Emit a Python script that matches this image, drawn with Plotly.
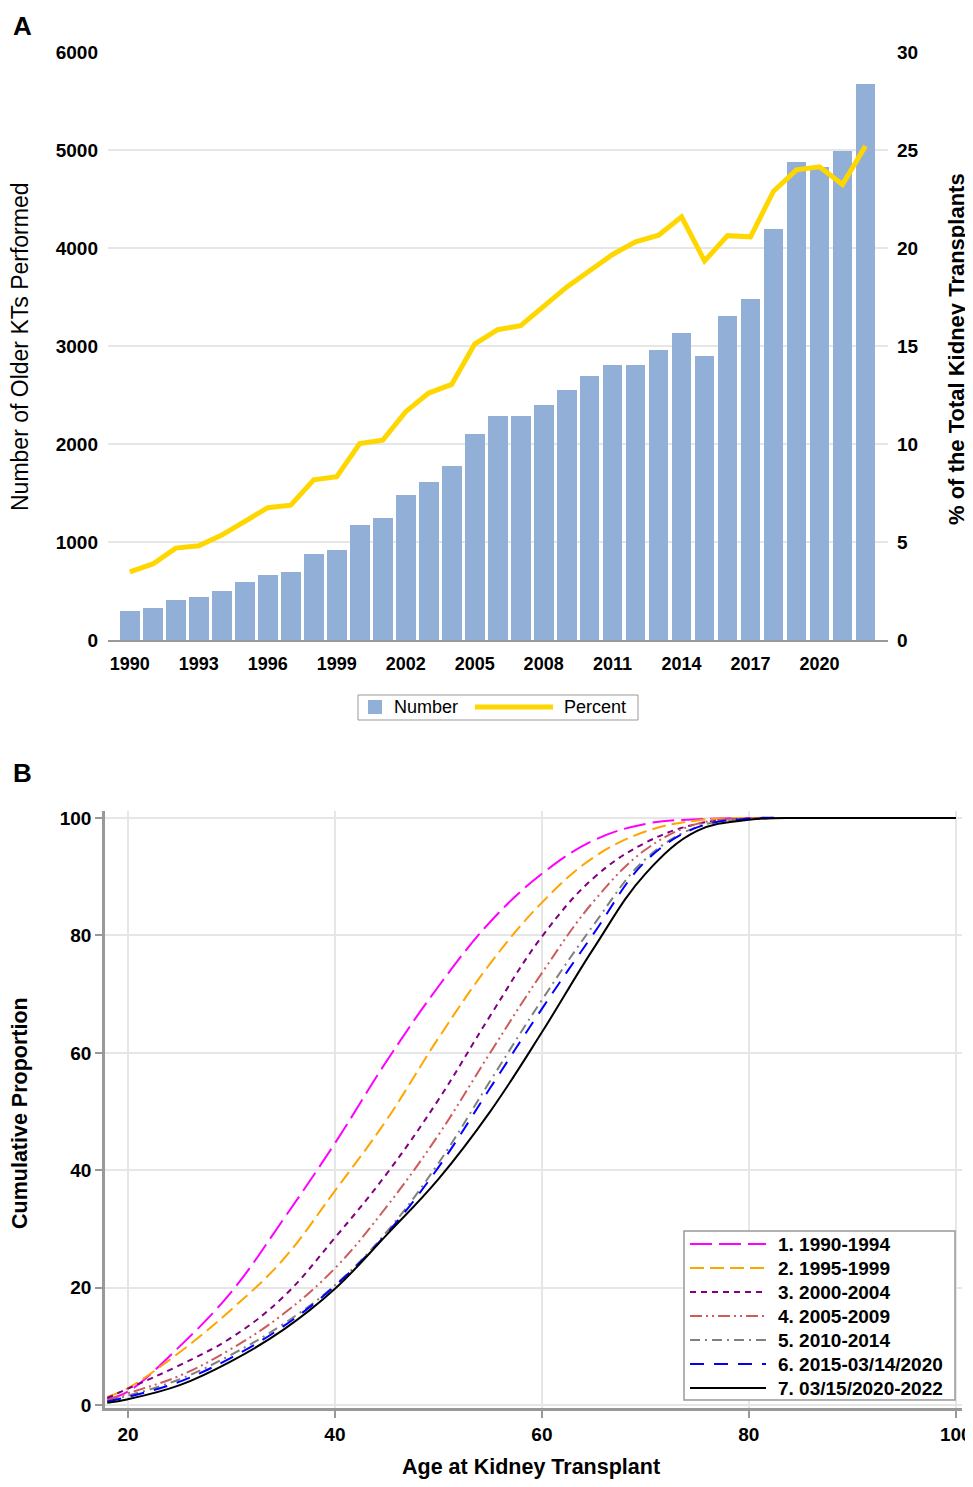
import plotly.graph_objects as go

# ---------------- Panel A data ----------------
years = list(range(1990, 2023))
number_kt = [292, 330, 405, 440, 497, 588, 665, 698, 882, 914, 1178, 1246, 1476, 1615, 1776, 2099,
             2290, 2285, 2402, 2550, 2693, 2810, 2808, 2960, 3137, 2895, 3311, 3483, 4196, 4875,
             4826, 4992, 5672]
percent_kt = [3.48, 3.88, 4.69, 4.81, 5.35, 6.08, 6.75, 6.88, 8.17, 8.33, 10.02, 10.19, 11.65, 12.6,
              13.04, 15.1, 15.83, 16.04, 17.0, 18.0, 18.84, 19.67, 20.32, 20.65, 21.59, 19.34,
              20.63, 20.57, 22.9, 23.99, 24.14, 23.24, 25.2]
year_ticks = list(range(1990, 2021, 3))

# ---------------- Panel B data ----------------
ages = [18, 20, 25, 30, 35, 40, 45, 50, 55, 60, 65, 70, 75, 80, 85, 90, 95, 100]
series_names = ["1. 1990-1994", "2. 1995-1999", "3. 2000-2004", "4. 2005-2009",
                "5. 2010-2014", "6. 2015-03/14/2020", "7. 03/15/2020-2022"]
cum_1990_1994 = [1.0, 2.3, 10.0, 19.3, 31.6, 44.6, 58.6, 71.3, 82.3, 90.5, 96.2, 99.0, 99.8, 100, 100, 100, 100, 100]
cum_1995_1999 = [1.4, 2.9, 9.0, 16.3, 24.8, 36.5, 48.6, 62.5, 75.2, 85.6, 93.3, 97.7, 99.6, 100, 100, 100, 100, 100]
cum_2000_2004 = [1.2, 2.8, 6.8, 11.5, 18.4, 28.5, 39.4, 52.0, 66.3, 79.8, 89.8, 95.8, 99.0, 99.9, 100, 100, 100, 100]
cum_2005_2009 = [0.8, 2.0, 5.0, 9.6, 15.5, 23.3, 33.8, 46.0, 60.0, 73.6, 85.8, 94.6, 99.0, 99.9, 100, 100, 100, 100]
cum_2010_2014 = [0.7, 1.6, 4.4, 8.6, 13.8, 20.4, 29.5, 41.2, 55.2, 69.0, 81.8, 93.0, 98.5, 99.8, 100, 100, 100, 100]
cum_2015_2020 = [0.6, 1.4, 4.0, 8.1, 13.4, 20.3, 29.2, 40.5, 54.0, 67.5, 80.3, 92.6, 98.4, 99.9, 100, 100, 100, 100]
cum_2020_2022 = [0.4, 1.0, 3.4, 7.5, 12.8, 19.8, 29.0, 38.5, 50.0, 63.5, 77.8, 90.5, 97.8, 99.7, 100, 100, 100, 100]
all_series = [cum_1990_1994, cum_1995_1999, cum_2000_2004, cum_2005_2009,
              cum_2010_2014, cum_2015_2020, cum_2020_2022]
colors = ["#FF00FF", "#FFA500", "#800080", "#CD5C5C", "#808080", "#0000FF", "#000000"]
dashes = ["22px,7px", "14px,6px", "6px,5px", "12px,4px,2px,4px,2px,4px",
          "10px,5px,2px,5px", "14px,10px", "solid"]

# page body has an 8px margin: work in page pixels and shift.
# Figure reaches the right window edge but leaves the bottom margin so the page does not scroll.
OFF = 8
W, H = 973 - OFF, 1487 - 2 * OFF
FONT = "Liberation Sans, Arial, sans-serif"


def px(x):
    return (x - OFF) / W


def py(y):
    return 1 - (y - OFF) / H


fig = go.Figure()

fig.add_trace(go.Bar(x=years, y=number_kt, name="Number", marker=dict(color="#91AFD7", line=dict(width=0)),
                     width=0.86, xaxis="x", yaxis="y", showlegend=False))
fig.add_trace(go.Scatter(x=years, y=percent_kt, name="Percent", mode="lines",
                         line=dict(color="#FFD700", width=5), xaxis="x", yaxis="y2", showlegend=False))

for name, vals, c, d in zip(series_names, all_series, colors, dashes):
    fig.add_trace(go.Scatter(x=ages, y=vals, name=name, mode="lines",
                             line=dict(color=c, width=2, dash=d, shape="spline", smoothing=1.1),
                             xaxis="x2", yaxis="y3", showlegend=False))

tickfont = dict(family=FONT, size=18, color="black", weight="bold")
grid = "#e6e6e6"

fig.update_layout(
    template="none",
    width=W, height=H,
    margin=dict(l=0, r=0, t=0, b=0, pad=0),
    paper_bgcolor="white", plot_bgcolor="white",
    font=dict(family=FONT, color="black"),
    showlegend=False,
    bargap=0,
    xaxis=dict(domain=[px(108), px(888)], anchor="y", range=[1989.05, 2022.98], automargin=False,
               tickvals=year_ticks, tickfont=tickfont, showgrid=False, zeroline=False,
               showline=True, linecolor="#999999", linewidth=2, ticks="", ticklabelstandoff=6),
    yaxis=dict(domain=[py(640), py(52)], anchor="x", range=[0, 6000], dtick=1000, automargin=False,
               tickfont=dict(tickfont, size=19), showgrid=True, gridcolor=grid, gridwidth=1.5,
               zeroline=False, showline=False, ticks="", ticklabelstandoff=9),
    yaxis2=dict(overlaying="y", side="right", anchor="x", range=[0, 30], dtick=5, automargin=False,
                tickfont=dict(tickfont, size=19), showgrid=False, zeroline=False, showline=False,
                ticks="", ticklabelstandoff=8),
    xaxis2=dict(domain=[px(105), px(962)], anchor="y3", range=[17.78, 100.6], automargin=False,
                tickvals=[20, 40, 60, 80, 100], tickfont=dict(tickfont, size=19),
                ticklabeloverflow="allow",
                showgrid=True, gridcolor=grid, gridwidth=1.5, zeroline=False,
                showline=True, linecolor="#999999", linewidth=2.5,
                ticks="outside", ticklen=7, tickcolor="#999999", tickwidth=2),
    yaxis3=dict(domain=[py(1408), py(811)], anchor="x2", range=[-0.5, 101.2], automargin=False,
                tickvals=[0, 20, 40, 60, 80, 100], tickfont=dict(tickfont, size=19),
                showgrid=True, gridcolor=grid, gridwidth=1.5, zeroline=False,
                showline=True, linecolor="#999999", linewidth=2.5,
                ticks="outside", ticklen=7, tickcolor="#999999", tickwidth=2),
)

ann = []
shapes = []


def note(text, x, y, size, xanchor="center", yanchor="middle", angle=0):
    ann.append(dict(text=text, x=px(x), y=py(y), xref="paper", yref="paper", xanchor=xanchor,
                    yanchor=yanchor, textangle=angle, showarrow=False,
                    font=dict(size=size, family=FONT, color="black")))


# panel letters
note("<b>A</b>", 22, 26, 26)
note("<b>B</b>", 22, 773, 26)
# axis titles
note("Number of Older KTs Performed", 20, 347, 23, angle=-90)
note("<b>% of the Total Kidney Transplants</b>", 957, 349, 22, angle=-90)
note("<b>Cumulative Proportion</b>", 20, 1113, 21.5, angle=-90)
note("<b>Age at Kidney Transplant</b>", 531, 1467, 21.5)

# legend A
shapes.append(dict(type="rect", xref="paper", yref="paper", x0=px(358), x1=px(638), y0=py(695), y1=py(720),
                   line=dict(color="#999999", width=1), fillcolor="white"))
shapes.append(dict(type="rect", xref="paper", yref="paper", x0=px(368), x1=px(382), y0=py(700), y1=py(714),
                   line=dict(width=0), fillcolor="#91AFD7"))
shapes.append(dict(type="line", xref="paper", yref="paper", x0=px(475), x1=px(553), y0=py(707), y1=py(707),
                   line=dict(color="#FFD700", width=5)))
note("Number", 392, 707, 18, xanchor="left")
note("Percent", 562, 707, 18, xanchor="left")

# legend B
shapes.append(dict(type="rect", xref="paper", yref="paper", x0=px(684), x1=px(955), y0=py(1231), y1=py(1400),
                   line=dict(color="#999999", width=1.5), fillcolor="white", layer="above"))
for i, (name, c, d) in enumerate(zip(series_names, colors, dashes)):
    yy = 1244 + 24 * i
    shapes.append(dict(type="line", xref="paper", yref="paper", x0=px(690), x1=px(766), y0=py(yy), y1=py(yy),
                       line=dict(color=c, width=2, dash=d), layer="above"))
    note("<b>" + name + "</b>", 776, yy, 19, xanchor="left")

fig.update_layout(annotations=ann, shapes=shapes)
fig.write_html("out.html")
